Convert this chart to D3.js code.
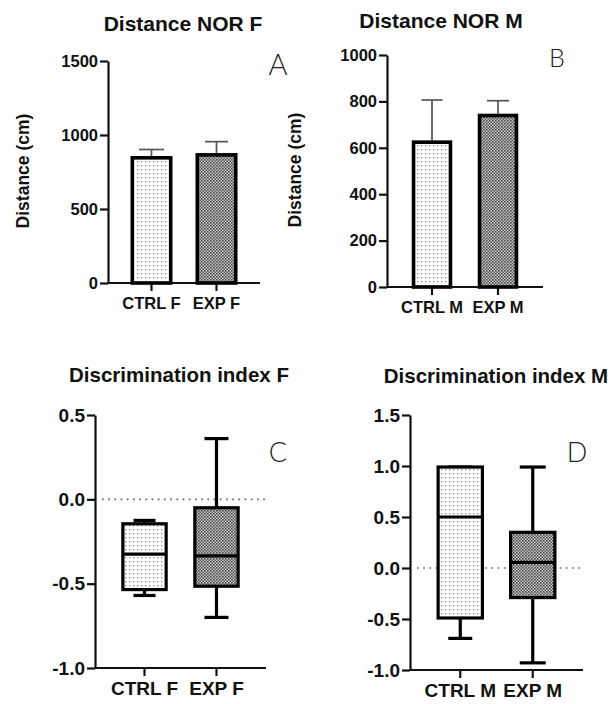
<!DOCTYPE html>
<html><head><meta charset="utf-8">
<script src="https://cdn.jsdelivr.net/npm/d3@7"></script>
<style>
html,body{margin:0;padding:0;background:#fff;}
svg{display:block;}
text{font-family:Arial,"Liberation Sans",Helvetica,sans-serif;}
</style></head>
<body>
<svg id="chart" width="611" height="704"></svg>
<script>
// ---- data ----
const catsF = ["CTRL F", "EXP F"];
const catsM = ["CTRL M", "EXP M"];
const distF = [858, 878];
const distFerr = [902, 955];   // top of error bar
const distM = [632, 747];
const distMerr = [806, 803];
const distFTicks = [0, 500, 1000, 1500];
const distMTicks = [0, 200, 400, 600, 800, 1000];
// box stats: [min, q1, median, q3, max]
const discF = [[-0.57, -0.535, -0.325, -0.145, -0.125], [-0.70, -0.515, -0.335, -0.05, 0.36]];
const discM = [[-0.69, -0.49, 0.50, 0.99, 0.99], [-0.93, -0.29, 0.055, 0.35, 0.99]];
const discFTicks = [-1.0, -0.5, 0.0, 0.5];
const discMTicks = [-1.0, -0.5, 0.0, 0.5, 1.0, 1.5];
const titles = ["Distance NOR F", "Distance NOR M", "Discrimination index F", "Discrimination index M"];
const letters = ["A", "B", "C", "D"];
const yLabel = "Distance (cm)";

const svg = d3.select("#chart");
const defs = svg.append("defs");
// light dotted pattern
const p1 = defs.append("pattern").attr("id","dots").attr("patternUnits","userSpaceOnUse")
  .attr("width",4).attr("height",4);
p1.append("rect").attr("width",4).attr("height",4).attr("fill","#fff");
p1.append("rect").attr("x",1).attr("y",1).attr("width",1.3).attr("height",1.3).attr("fill","#888");
// dense checker pattern
const p2 = defs.append("pattern").attr("id","check").attr("patternUnits","userSpaceOnUse")
  .attr("width",3).attr("height",3);
p2.append("rect").attr("width",3).attr("height",3).attr("fill","#cfcfcf");
p2.append("rect").attr("x",0).attr("y",0).attr("width",1.6).attr("height",1.6).attr("fill","#444");
p2.append("rect").attr("x",1.5).attr("y",1.5).attr("width",1.5).attr("height",1.5).attr("fill","#555");
const fills = ["url(#dots)", "url(#check)"];
const FF = "Arial, 'Liberation Sans', sans-serif";
const fmt1 = v => d3.format(".1f")(v).replace("\u2212", "-");

function frame(cfg){
  const g = svg.append("g");
  const x = d3.scaleBand().domain(cfg.cats).range([cfg.x0, cfg.x1])
    .paddingInner(cfg.pi).paddingOuter(cfg.po);
  const y = d3.scaleLinear().domain(cfg.domain).range([cfg.yb, cfg.yt]);
  // y axis
  const ya = g.append("g").attr("transform",`translate(${cfg.x0},0)`)
    .call(d3.axisLeft(y).tickValues(cfg.ticks).tickSize(8).tickSizeOuter(0).tickPadding(2)
      .tickFormat(cfg.fmt));
  ya.select(".domain").attr("stroke","#111").attr("stroke-width",2.2);
  ya.selectAll(".tick line").attr("stroke","#111").attr("stroke-width",2.2);
  ya.selectAll(".tick text").attr("fill","#111").attr("font-weight","bold")
    .attr("font-size",cfg.tfs).attr("font-family",FF);
  // x axis
  const xa = g.append("g").attr("transform",`translate(0,${cfg.yb})`)
    .call(d3.axisBottom(x).tickSize(8).tickSizeOuter(0).tickPadding(cfg.xpad));
  xa.select(".domain").attr("stroke","#111").attr("stroke-width",2.2)
    .attr("d",`M${cfg.x0},0H${cfg.x1}`);
  xa.selectAll(".tick line").attr("stroke","#111").attr("stroke-width",2.2);
  xa.selectAll(".tick text").attr("fill","#111").attr("font-weight","bold")
    .attr("font-size",cfg.cfs).attr("font-family",FF);
  // title
  g.append("text").attr("x",cfg.tx).attr("y",cfg.ty).attr("text-anchor","middle")
    .attr("font-weight","bold").attr("font-size",cfg.titleFs).attr("fill","#111").text(cfg.title);
  // letter
  g.append("text").attr("x",cfg.lx).attr("y",cfg.ly).attr("text-anchor","middle")
    .attr("font-size",cfg.lfs).attr("font-weight",300).attr("fill","#222")
    .style("font-family","'Lato Light', Lato, Inter, 'Open Sans', sans-serif").text(cfg.letter);
  if (cfg.ylab){
    g.append("text").attr("transform",`translate(${cfg.ylx},${cfg.yly}) rotate(-90)`)
      .attr("text-anchor","middle").attr("font-weight","bold").attr("font-size",17.5)
      .attr("fill","#111").text(cfg.ylab);
  }
  return {g, x, y};
}

function barPanel(cfg, vals, errs){
  const {g, x, y} = frame(cfg);
  const bg = g.append("g");
  cfg.cats.forEach((c,i)=>{
    const cx = x(c) + x.bandwidth()/2;
    const cw = cfg.capW[i];
    bg.append("line").attr("x1",cx).attr("x2",cx).attr("y1",y(vals[i])).attr("y2",y(errs[i]))
      .attr("stroke","#555").attr("stroke-width",1.7);
    bg.append("line").attr("x1",cx-cw/2).attr("x2",cx+cw/2).attr("y1",y(errs[i])).attr("y2",y(errs[i]))
      .attr("stroke","#555").attr("stroke-width",1.7);
  });
  bg.selectAll("rect.bar").data(vals).join("rect").attr("class","bar")
    .attr("x",(d,i)=>x(cfg.cats[i])+1.8).attr("width",x.bandwidth()-3.6)
    .attr("y",d=>y(d)+1.8).attr("height",d=>y(0)-y(d)-1.8)
    .attr("fill",(d,i)=>fills[i]).attr("stroke","#000").attr("stroke-width",3.6);
}

function boxPanel(cfg, stats){
  const {g, x, y} = frame(cfg);
  g.append("line").attr("x1",cfg.dx0).attr("x2",cfg.x1).attr("y1",y(0)).attr("y2",y(0))
    .attr("stroke","#666").attr("stroke-width",1.7).attr("stroke-dasharray","1.7,4.5");
  stats.forEach((s,i)=>{
    const c = cfg.cats[i];
    const x0 = x(c), w = x.bandwidth(), cx = x0 + w/2, cw = cfg.capW[i];
    const [mn,q1,md,q3,mx] = s;
    const bb = g.append("g");
    bb.append("line").attr("x1",cx).attr("x2",cx).attr("y1",y(mx)).attr("y2",y(mn))
      .attr("stroke","#000").attr("stroke-width",3.2);
    [mn,mx].forEach(v=>bb.append("line").attr("x1",cx-cw/2).attr("x2",cx+cw/2)
      .attr("y1",y(v)).attr("y2",y(v)).attr("stroke","#000").attr("stroke-width",3.2));
    bb.append("rect").attr("x",x0+1.6).attr("width",w-3.2).attr("y",y(q3)).attr("height",y(q1)-y(q3))
      .attr("fill",fills[i]).attr("stroke","#000").attr("stroke-width",3.2);
    bb.append("line").attr("x1",x0+1.6).attr("x2",x0+w-1.6).attr("y1",y(md)).attr("y2",y(md))
      .attr("stroke","#000").attr("stroke-width",3.2);
  });
}

barPanel({cats:catsF, x0:108, x1:260, pi:0.354, po:0.346, domain:[0,1500], yb:283, yt:61,
  ticks:distFTicks, fmt:d3.format("d"), tfs:16.5, cfs:16.5, xpad:6, title:titles[0], titleFs:21, tx:183, ty:31,
  letter:letters[0], lx:278, ly:75, lfs:29, ylab:yLabel, ylx:29, yly:171, capW:[25,23]}, distF, distFerr);

barPanel({cats:catsM, x0:387, x1:543, pi:0.386, po:0.375, domain:[0,1000], yb:287, yt:55,
  ticks:distMTicks, fmt:d3.format("d"), tfs:16.5, cfs:16.5, xpad:6, title:titles[1], titleFs:21, tx:441, ty:28,
  letter:letters[1], lx:557, ly:67, lfs:25, ylab:yLabel, ylx:301, yly:170, capW:[21,22]}, distM, distMerr);

boxPanel({cats:catsF, x0:95, x1:266, pi:0.354, po:0.365, domain:[-1,0.5], yb:668, yt:415,
  ticks:discFTicks, fmt:fmt1, tfs:19, cfs:19, xpad:6, title:titles[2], titleFs:20.5, tx:179, ty:382,
  letter:letters[2], lx:278, ly:462, lfs:27, dx0:102, capW:[22,24]}, discF);

boxPanel({cats:catsM, x0:410, x1:583, pi:0.345, po:0.366, domain:[-1,1.5], yb:670, yt:415,
  ticks:discMTicks, fmt:fmt1, tfs:19, cfs:19, xpad:6, title:titles[3], titleFs:20.5, tx:496, ty:383,
  letter:letters[3], lx:577, ly:462, lfs:27, dx0:417, capW:[24,26]}, discM);
</script>
</body></html>
